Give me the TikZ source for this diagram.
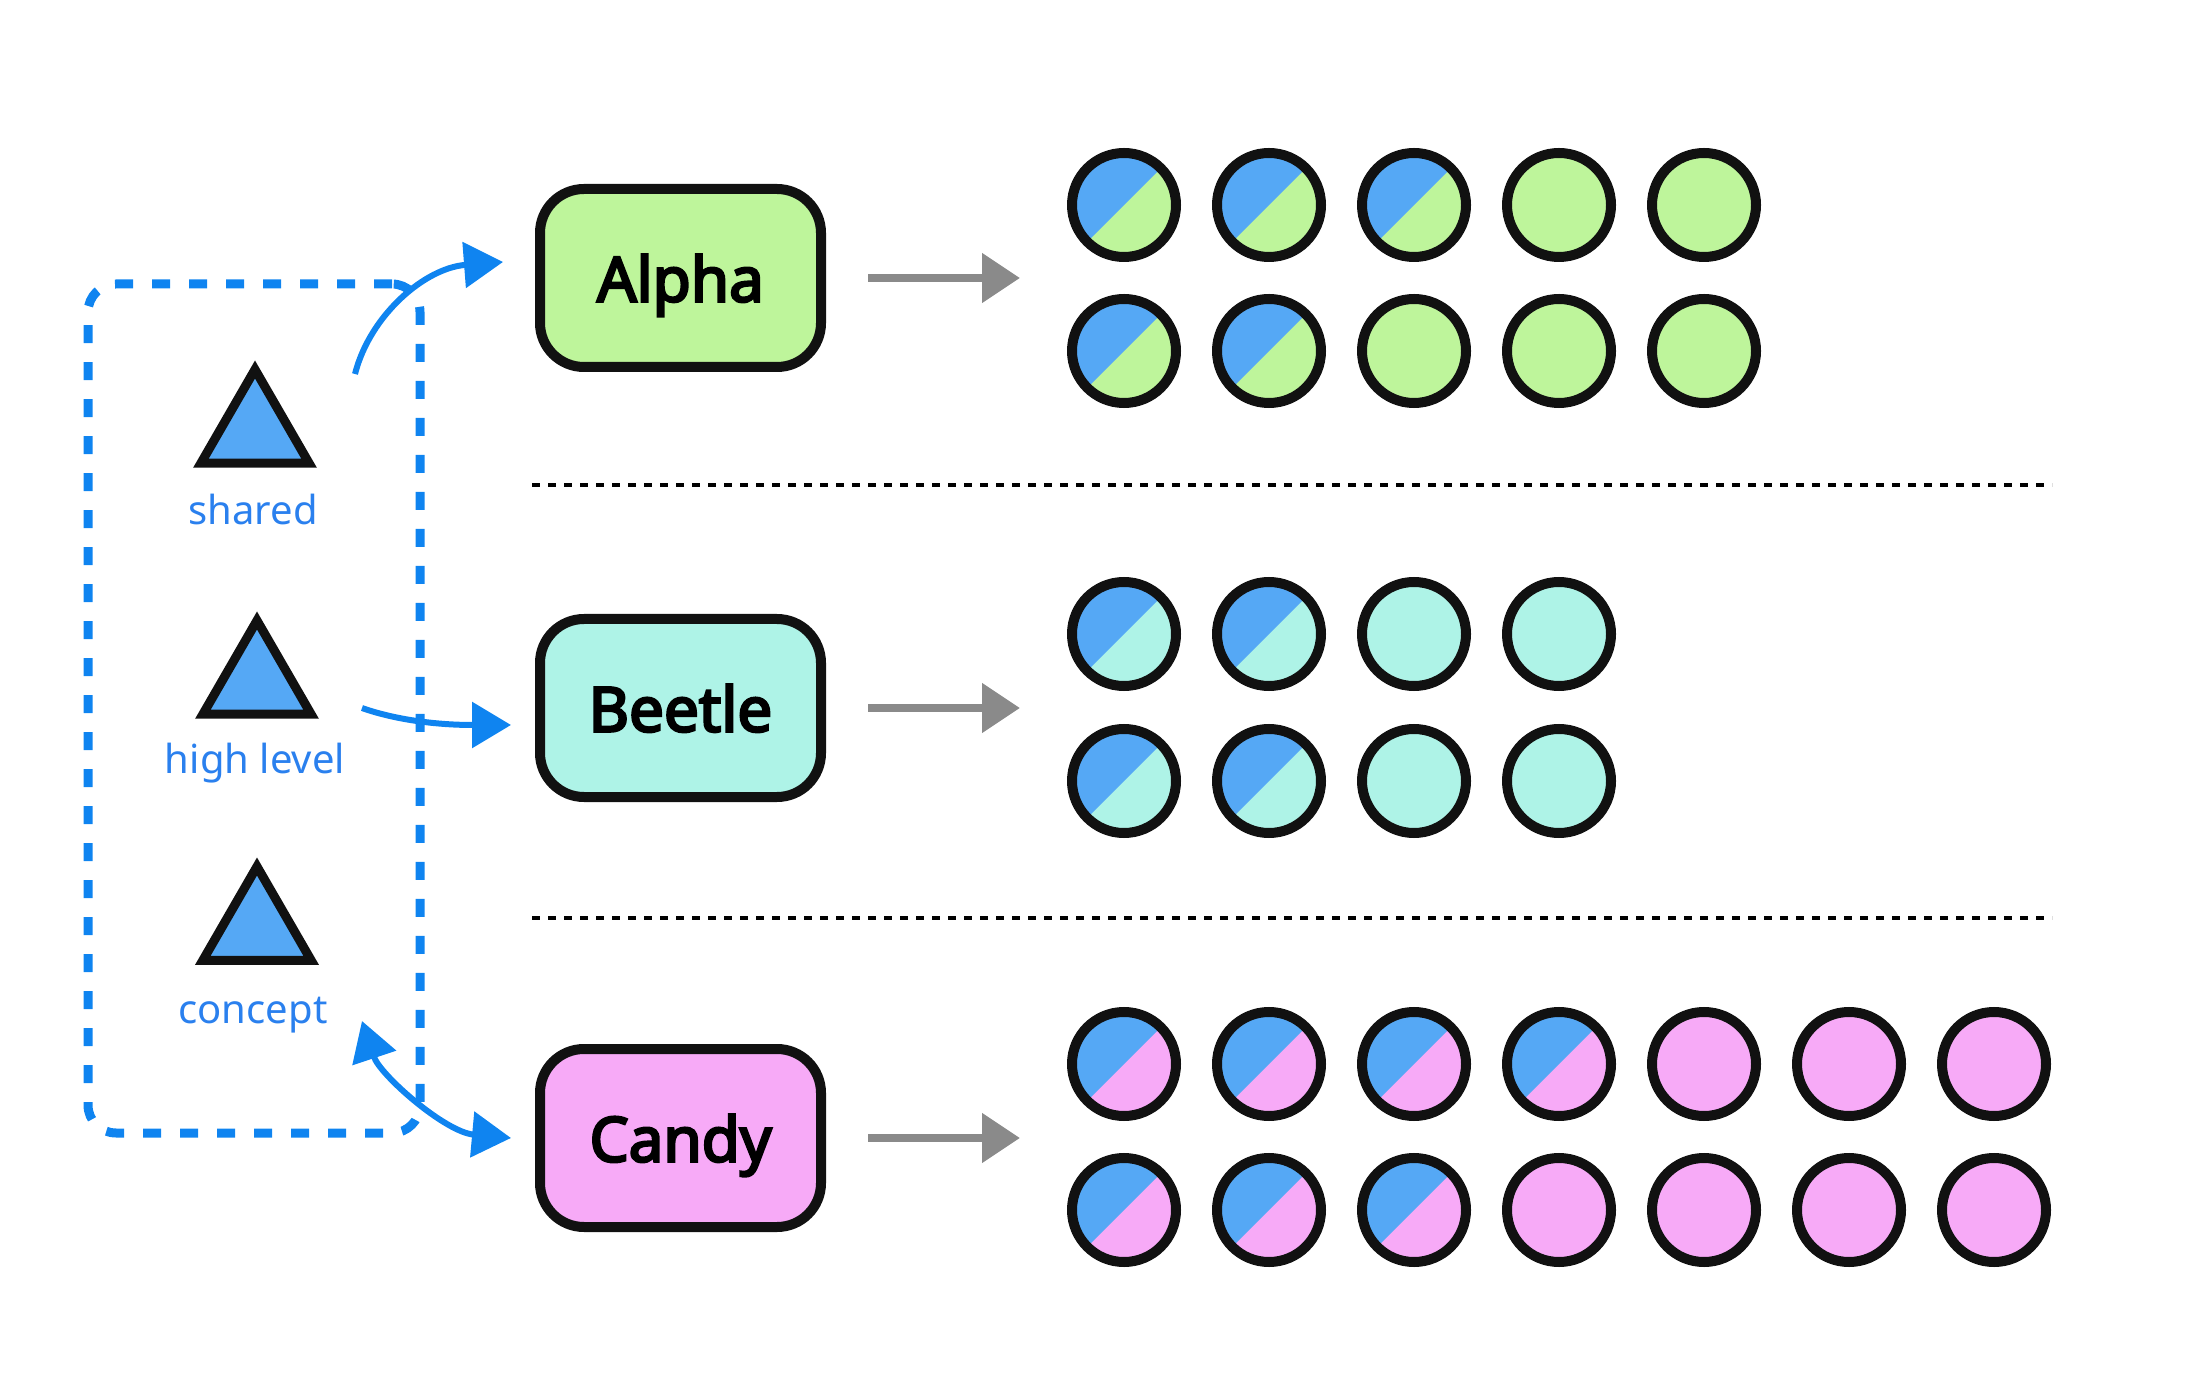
\documentclass[tikz,border=0pt]{standalone}
\usepackage{fontspec}
\setmainfont{Noto Sans}
\newfontfamily\boxfont{Noto Sans}[FakeBold=4]
\usepackage{tikz}
\usetikzlibrary{positioning,shapes.geometric,arrows.meta}

\definecolor{alphafill}{HTML}{BEF59B}
\definecolor{beetlefill}{HTML}{AEF3E7}
\definecolor{candyfill}{HTML}{F7AAF7}
\definecolor{conceptblue}{HTML}{55A8F5}
\definecolor{linkblue}{HTML}{0F84F0}
\definecolor{labelblue}{HTML}{2A80EE}
\definecolor{ink}{HTML}{111111}
\definecolor{feedgray}{HTML}{8A8A8A}

\tikzset{
    team/.style={draw=ink, line width=5pt, rounded corners=22pt,
        minimum width=140.5pt, minimum height=89pt, text depth=0pt,
        font=\boxfont\fontsize{31}{36}\selectfont},
    concept/.style={regular polygon, regular polygon sides=3,
        draw=ink, fill=conceptblue, line width=4.5pt,
        minimum size=62.5pt, inner sep=0pt},
    tag/.style={text=labelblue, anchor=base,
        font=\fontsize{20}{24}\selectfont},
    dot/.style={circle, draw=ink, line width=5pt,
        minimum size=52pt, inner sep=0pt},
    split/.style={path picture={
        \fill[conceptblue] (path picture bounding box.south west)
            -- (path picture bounding box.north east)
            -- (path picture bounding box.north west) -- cycle;}},
    link/.style={draw=linkblue, line width=3pt,
        -{Triangle[length=19.5pt, width=22.5pt]}},
    feed/.style={draw=feedgray, line width=4pt,
        -{Triangle[length=19pt, width=24pt]},
        shorten <=21pt, shorten >=23.5pt},
    divider/.style={draw=black, line width=2pt, dash pattern=on 4pt off 4pt}
}

\begin{document}
\begin{tikzpicture}[x=0.5pt, y=-0.5pt]
    \useasboundingbox (0,0) rectangle (2200,1400);

    % shared concepts
    \node[draw=linkblue, line width=4.5pt, rounded corners=14pt,
        dash pattern=on 9pt off 9.5pt,
        minimum width=166pt, minimum height=424.5pt] (group) at (254,708.5) {};
    \node[concept] (shared) at (255,432) {};
    \node[tag] (sharedtag) at (253,525) {shared};
    \node[concept] (level) at (257,683) {};
    \node[tag] (leveltag) at (255,774) {high level};
    \node[concept] (idea) at (257,929) {};
    \node[tag] (ideatag) at (253,1023) {concept};

    % teams
    \node[team, fill=alphafill] (alpha) at (680.5,278) {Alpha};
    \node[team, fill=beetlefill] (beetle) at (680.5,708) {Beetle};
    \node[team, fill=candyfill] (candy) at (680.5,1138) {Candy};

    \draw[divider] (532,485) -- (2052,485);
    \draw[divider] (532,918) -- (2052,918);

    % members
    \foreach \g/\r/\y/\n/\s in {alpha/1/205/5/3, alpha/2/351/5/2,
        beetle/1/634/4/2, beetle/2/781/4/2,
        candy/1/1064/7/4, candy/2/1210/7/3}{
        \foreach \k in {1,...,\n}{
            \ifnum\k>\s
                \node[dot, fill=\g fill] (\g-\r-\k) at ({1124+145*(\k-1)},\y) {};
            \else
                \node[dot, fill=\g fill, split] (\g-\r-\k) at ({1124+145*(\k-1)},\y) {};
            \fi
        }
    }

    \draw[feed] (alpha.east) -- (alpha.east -| alpha-1-1.west);
    \draw[feed] (beetle.east) -- (beetle.east -| beetle-1-1.west);
    \draw[feed] (candy.east) -- (candy.east -| candy-1-1.west);

    % links to teams
    \coordinate (sharedout) at (355,374);
    \coordinate (alphain) at (503,262);
    \coordinate (levelout) at (362,708);
    \coordinate (beetlein) at (511,725);
    \coordinate (ideaout) at (362,1021);
    \coordinate (candyin) at (511,1138);

    \draw[link] (sharedout) .. controls (370,315) and (425,268) .. (alphain);
    \draw[link] (levelout) .. controls (390,718) and (430,725) .. (beetlein);
    \draw[link, {Triangle[length=19.5pt, width=22.5pt]}-{Triangle[length=19.5pt, width=22.5pt]}]
        (ideaout) .. controls (380,1075) and (445,1132) .. (candyin);
\end{tikzpicture}
\end{document}
